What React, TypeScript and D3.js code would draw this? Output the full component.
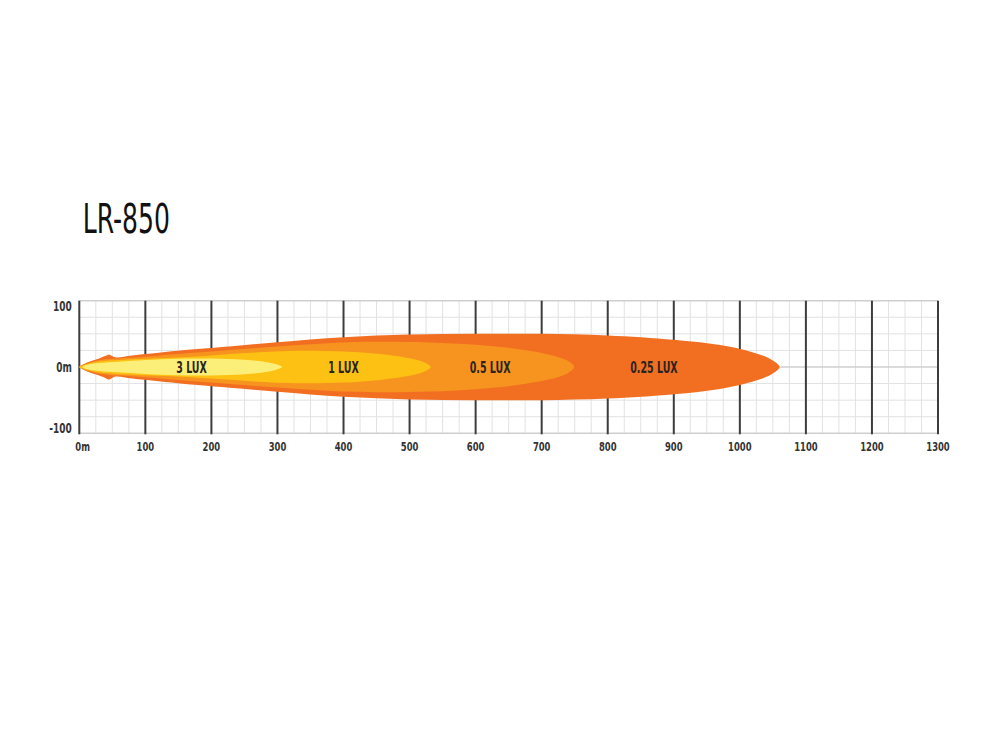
import React from "react";
import * as d3 from "d3";

// ---- data (metres) ----
const title = "LR-850";
const xTickValues = [0, 100, 200, 300, 400, 500, 600, 700, 800, 900, 1000, 1100, 1200, 1300];
const xTickLabels = ["0m", "100", "200", "300", "400", "500", "600", "700", "800", "900", "1000", "1100", "1200", "1300"];
const yTickValues = [100, 0, -100];
const yTickLabels = ["100", "0m", "-100"];
const gridStep = 25;

const luxLevels = ["0.25 LUX", "0.5 LUX", "1 LUX", "3 LUX"];
const luxLabelX = [870, 622, 400, 170];
// half-width profiles [distance, half-width]
const profile025: [number, number][] = [
  [0, 0], [6, 4], [18, 9], [30, 13], [40, 17], [45, 19], [49, 17], [55, 14.5], [80, 17.5],
  [120, 21.5], [160, 25.5], [220, 30.5], [300, 37.5], [400, 45], [500, 49], [600, 50],
  [700, 50], [800, 47.5], [900, 41], [970, 33], [1020, 22], [1048, 11], [1060, 0],
];
const profile05: [number, number][] = [
  [0, 0], [8, 4], [25, 9], [45, 12], [60, 13], [100, 15.5], [140, 19], [200, 23.5],
  [300, 31], [400, 37], [460, 38], [530, 37], [600, 33.5], [660, 27.5], [710, 19],
  [738, 10], [749, 0],
];
const profile1: [number, number][] = [
  [0, 0], [8, 3.5], [25, 7.5], [50, 10], [100, 12.5], [140, 14], [200, 17.5], [260, 21.5],
  [330, 24.5], [400, 23.5], [456, 19.5], [495, 14], [520, 8], [532, 0],
];
const profile3: [number, number][] = [
  [5, 0], [12, 3.5], [30, 6], [60, 8], [100, 10.5], [150, 12.5], [200, 12.8], [250, 11],
  [280, 7.8], [298, 4], [307, 0],
];
const profiles = [profile025, profile05, profile1, profile3];
const luxColors = ["#f26f22", "#f7941f", "#fdc113", "#fcef79"];

const W = 1000;
const H = 750;

export default function App() {
  const x = d3.scaleLinear().domain([0, 1300]).range([79.3, 938]);
  const y = d3.scaleLinear().domain([-100, 100]).range([433.3, 300.7]);

  const line = d3
    .line<[number, number]>()
    .x((d) => x(d[0]))
    .y((d) => y(d[1]))
    .curve(d3.curveCatmullRomClosed.alpha(0.5));

  const shapePath = (p: [number, number][]) => {
    const upper = p.map(([a, b]) => [a, b] as [number, number]);
    const lower = p
      .slice(1, -1)
      .reverse()
      .map(([a, b]) => [a, -b] as [number, number]);
    return line([...upper, ...lower]) || "";
  };

  const minorX = d3.range(0, 1300 + 1, gridStep);
  const minorY = d3.range(-100, 100 + 1, gridStep);
  const font = "'DejaVu Sans Condensed', 'DejaVu Sans', sans-serif";

  return (
    <svg
      width={W}
      height={H}
      viewBox={`0 0 ${W} ${H}`}
      style={{ position: "absolute", left: 0, top: 0, background: "#fff" }}
    >
      <rect x={0} y={0} width={W} height={H} fill="#fff" />
      <text
        transform={`translate(82.7,232.7) scale(0.68,1)`}
        fontFamily={font}
        fontSize={41}
        fill="#111"
      >
        {title}
      </text>

      {/* minor grid */}
      <g>
        {minorX.map((v) => (
          <line key={"mx" + v} x1={x(v)} x2={x(v)} y1={y(100)} y2={y(-100)} stroke="#e2e2e2" strokeWidth={1} />
        ))}
        {minorY.map((v) => (
          <line
            key={"my" + v}
            x1={x(0)}
            x2={x(1300)}
            y1={y(v)}
            y2={y(v)}
            stroke={v === 0 || Math.abs(v) === 100 ? "#cfcfcf" : "#e2e2e2"}
            strokeWidth={v === 0 || Math.abs(v) === 100 ? 1.5 : 1}
          />
        ))}
      </g>
      {/* major lines */}
      <g>
        {xTickValues.map((v) => (
          <line key={"M" + v} x1={x(v)} x2={x(v)} y1={y(100)} y2={y(-100) + 1} stroke="#3d3d3d" strokeWidth={2} />
        ))}
      </g>

      {/* beam layers */}
      <g>
        {profiles.map((p, i) => (
          <path key={luxLevels[i]} d={shapePath(p)} fill={luxColors[i]} />
        ))}
      </g>

      {/* lux labels */}
      <g fontFamily={font} fontWeight="bold" fontSize={16} fill="#2a2420">
        {luxLevels.map((l, i) => (
          <text
            key={l}
            transform={`translate(${x(luxLabelX[i])},${y(0) + 6.3}) scale(0.66,1)`}
            textAnchor="middle"
          >
            {l}
          </text>
        ))}
      </g>

      {/* y labels */}
      <g fontFamily={font} fontWeight="bold" fontSize={13.5} fill="#333">
        {yTickValues.map((v, i) => (
          <text
            key={"yl" + v}
            transform={`translate(${x(0) - 7.5},${v === 100 ? y(v) + 9.8 : v === 0 ? y(v) + 5 : y(v)}) scale(0.74,1)`}
            textAnchor="end"
          >
            {yTickLabels[i]}
          </text>
        ))}
      </g>
      {/* x labels */}
      <g fontFamily={font} fontWeight="bold" fontSize={12.5} fill="#333">
        {xTickValues.map((v, i) => (
          <text
            key={"xl" + v}
            transform={`translate(${v === 0 ? x(v) - 4 : x(v)},450.7) scale(0.75,1)`}
            textAnchor={v === 0 ? "start" : "middle"}
          >
            {xTickLabels[i]}
          </text>
        ))}
      </g>
    </svg>
  );
}
